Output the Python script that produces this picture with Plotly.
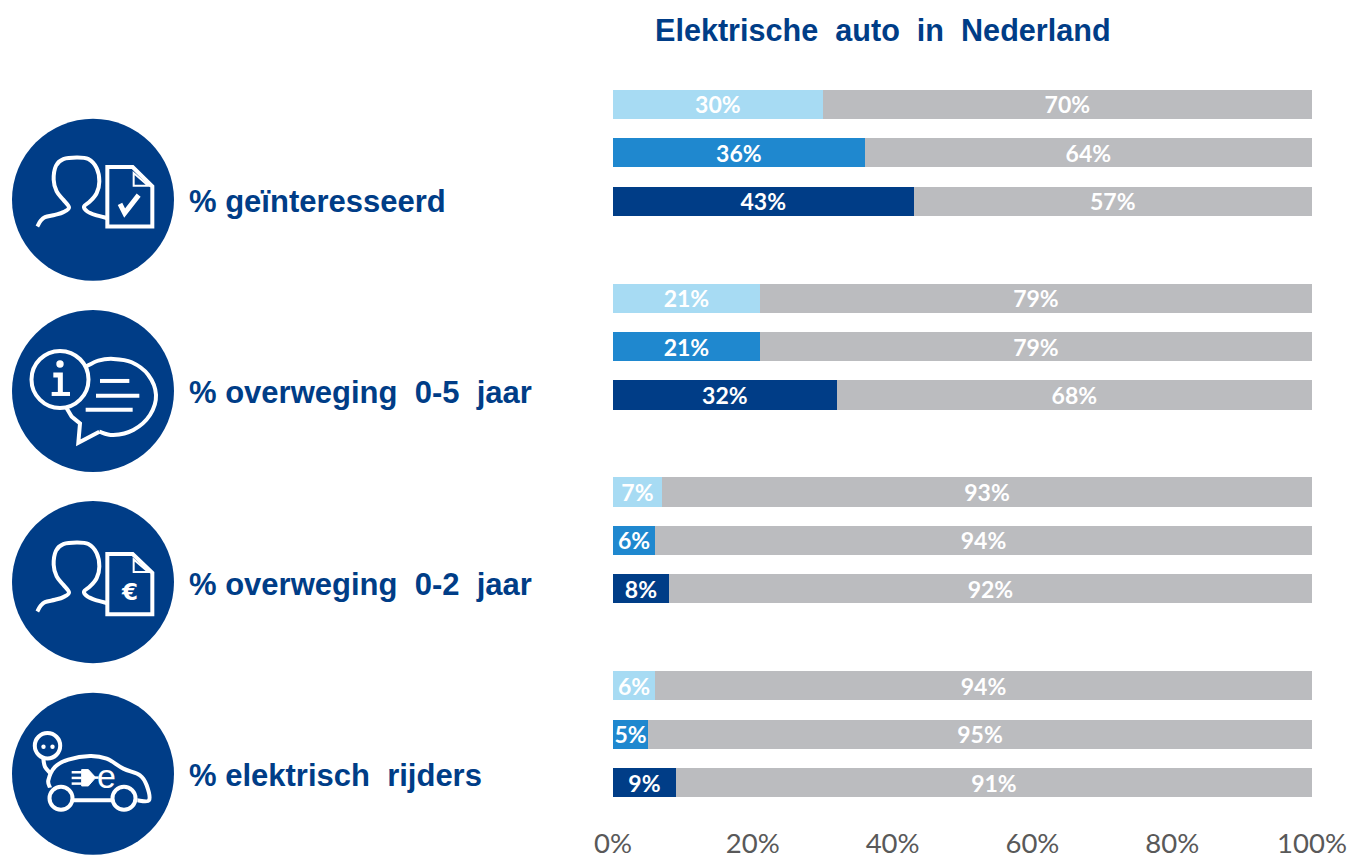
import plotly.graph_objects as go

# ---------- data ----------
row_ids = ["g1", "g2", "g3", "_a", "o51", "o52", "o53", "_b", "o21", "o22", "o23", "_c", "e1", "e2", "e3"]
light_rows = ["g1", "o51", "o21", "e1"]
mid_rows = ["g2", "o52", "o22", "e2"]
dark_rows = ["g3", "o53", "o23", "e3"]
light_values = [30, 21, 7, 6]
mid_values = [36, 21, 6, 5]
dark_values = [43, 32, 8, 9]
rest_rows = light_rows + mid_rows + dark_rows
rest_values = [70, 79, 93, 94, 64, 79, 94, 95, 57, 68, 92, 91]
x_ticks = [0, 20, 40, 60, 80, 100]
x_tick_labels = ["0%", "20%", "40%", "60%", "80%", "100%"]
row_labels = ["%\u00a0geïnteresseerd", "%\u00a0overweging\u00a0\u00a00-5\u00a0\u00a0jaar",
              "%\u00a0overweging\u00a0\u00a00-2\u00a0\u00a0jaar", "%\u00a0elektrisch\u00a0\u00a0rijders"]
title_text = "Elektrische\u00a0\u00a0auto\u00a0\u00a0in\u00a0\u00a0Nederland"

# ---------- style ----------
W, H = 1352, 859
L, R, T, B = 613, 1312, 80.3, 806.7
NAVY, MID, LIGHT, GREY = "#003D87", "#1F88CF", "#A7DBF3", "#BBBCBF"


def px(x):
    return (x - L) / (R - L)


def py(y):
    return (B - y) / (B - T)


def pts_path(points, closed=False, smooth=False):
    """points are real pixel positions; path is written in paper units."""
    def fmt(p):
        return f"{px(p[0]):.5f},{py(p[1]):.5f}"
    if not smooth:
        s = "M" + " L".join(fmt(p) for p in points)
    else:
        s = "M" + fmt(points[0])
        n = len(points)
        for i in range(n - 1):
            p0 = points[max(i - 1, 0)]
            p1, p2 = points[i], points[i + 1]
            p3 = points[min(i + 2, n - 1)]
            c1 = (p1[0] + (p2[0] - p0[0]) / 6, p1[1] + (p2[1] - p0[1]) / 6)
            c2 = (p2[0] - (p3[0] - p1[0]) / 6, p2[1] - (p3[1] - p1[1]) / 6)
            s += f" C{fmt(c1)} {fmt(c2)} {fmt(p2)}"
    return s + (" Z" if closed else "")


shapes = []


def circle(cx, cy, r, fill=None, line=None, width=4):
    shapes.append(dict(type="circle", xref="paper", yref="paper",
                       x0=px(cx - r), x1=px(cx + r), y0=py(cy + r), y1=py(cy - r),
                       fillcolor=fill or "rgba(0,0,0,0)",
                       line=dict(color=line or "rgba(0,0,0,0)", width=width if line else 0),
                       layer="above"))


def stroke(zpts, oy, closed=False, smooth=False, width=4, fill=None):
    real = [(z[0] / 3, oy + z[1] / 3) for z in zpts]
    shapes.append(dict(type="path", xref="paper", yref="paper",
                       path=pts_path(real, closed, smooth),
                       fillcolor=fill or "rgba(0,0,0,0)",
                       line=dict(color="white", width=width), layer="above"))


annotations = []


def text(x, y, s, size, family, color, weight=400, anchor="left"):
    annotations.append(dict(xref="paper", yref="paper", x=px(x), y=py(y), text=s,
                            showarrow=False, xanchor=anchor, yanchor="middle",
                            font=dict(size=size, family=family, color=color, weight=weight)))


for cy in (200, 391, 582, 773.5):
    circle(93, cy, 81, fill=NAVY)

PERSON = [(112, 350), (122, 333), (135, 322), (165, 315), (190, 307), (207, 293), (190, 270), (170, 245),
          (161, 210), (168, 168), (190, 148), (230, 143), (265, 148), (290, 175), (298, 215),
          (290, 250), (270, 275), (252, 290), (262, 305), (285, 315), (322, 325)]
DOC = [(322, 172), (398, 172), (457, 230), (457, 350), (322, 350)]
FOLD = [(401, 190), (401, 228), (445, 228)]

# icon 1 : person + ticked document
stroke(PERSON, 110, smooth=True)
stroke(DOC, 110, closed=True)
stroke(FOLD, 110, closed=True, width=2)
stroke([(360, 282), (374, 310), (416, 256)], 110, width=5)

# icon 2 : info + speech bubble
circle(60, 379.5, 28.5, line="white")
stroke([(258, 770), (295, 752), (340, 747), (395, 757), (445, 795), (468, 855), (450, 915), (400, 960),
        (340, 975), (298, 965)], 110, smooth=True)
stroke([(298, 965), (235, 998), (240, 940), (215, 920), (200, 895)], 110)
circle(60, 364, 3.7, fill="white")
stroke([(160, 795), (181, 795), (181, 850)], 110, width=5)
stroke([(155, 852), (210, 852)], 110, width=4)
stroke([(300, 813), (388, 813)], 110)
stroke([(288, 857), (418, 857)], 110)
stroke([(257, 899), (398, 899)], 110)

# icon 3 : person + euro document
stroke([(p[0], p[1] + 14) for p in PERSON], 490, smooth=True)
stroke([(322, 192), (398, 192), (457, 248), (457, 372), (322, 372)], 490, closed=True)
stroke([(401, 208), (401, 246), (445, 246)], 490, closed=True, width=2)
text(129, 592, "<b>€</b>", 23, "DejaVu Sans", "white", anchor="center")

# icon 4 : car + plug
circle(47.5, 745.5, 12.7, line="white")
circle(43.5, 746.5, 2.2, fill="white")
circle(52.5, 746.5, 2.2, fill="white")
stroke([(130, 805), (135, 830), (152, 850)], 490, smooth=True)
stroke([(218, 930), (335, 930)], 490)
stroke([(150, 892), (145, 870), (165, 830), (205, 808), (270, 797), (320, 805), (370, 835), (420, 855),
        (440, 885), (447, 930), (412, 930)], 490, smooth=True)
circle(61, 798, 11.5, line="white")
circle(124, 798, 11.5, line="white")
for zy in (846, 863, 880):
    stroke([(215, zy), (245, zy)], 490, width=2.5)
stroke([(245, 838), (265, 838), (287, 862), (265, 887), (245, 887)], 490, closed=True, fill="white", width=1)
stroke([(285, 862), (296, 862)], 490, width=2.5)
text(106, 776, "e", 34, "Liberation Sans", "white", anchor="center")

# texts
for label, y in zip(row_labels, (202, 393, 584, 775)):
    text(187, y, label, 31, "Liberation Sans", NAVY, weight=700)
text(883, 30, title_text, 30.6, "Liberation Sans", NAVY, weight=700, anchor="center")


# ---------- bars ----------
def bars(values, rows, color):
    return go.Bar(x=values, y=rows, orientation="h", marker=dict(color=color, line=dict(width=0)),
                  text=[f"{v}%" for v in values], textposition="inside", insidetextanchor="middle",
                  textangle=0, constraintext="none", cliponaxis=False,
                  insidetextfont=dict(family="Lato", size=23, color="white", weight=700))


fig = go.Figure([bars(light_values, light_rows, LIGHT),
                 bars(mid_values, mid_rows, MID),
                 bars(dark_values, dark_rows, NAVY),
                 bars(rest_values, rest_rows, GREY)])

fig.update_layout(
    width=W, height=H, barmode="stack", bargap=0.4, showlegend=False,
    paper_bgcolor="white", plot_bgcolor="white",
    margin=dict(l=L, r=W - R, t=T, b=H - B, pad=0),
    shapes=shapes, annotations=annotations,
    xaxis=dict(range=[0, 100], tickvals=x_ticks, ticktext=x_tick_labels, showgrid=False, zeroline=False,
               showline=False, ticks="outside", ticklen=12, tickcolor="rgba(0,0,0,0)",
               tickfont=dict(family="Lato", size=27.5, color="#595959"), automargin=False),
    yaxis=dict(type="category", categoryorder="array", categoryarray=row_ids, range=[14.5, -0.5],
               showticklabels=False, showgrid=False, zeroline=False, showline=False, ticks="", automargin=False),
)

fig.write_html("out.html", config=dict(displayModeBar=False),
               post_script="document.body.style.margin='0';")
